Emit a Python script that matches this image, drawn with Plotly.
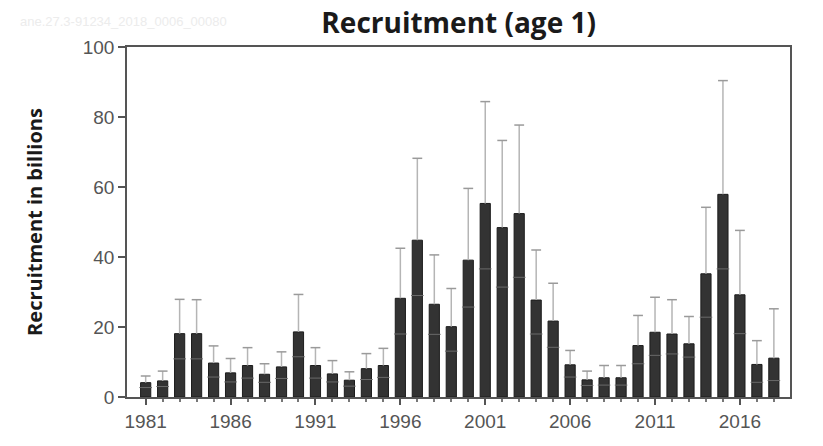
import plotly.graph_objects as go

years = list(range(1981, 2019))
recruitment = [4.1, 4.6, 18.1, 18.1, 9.7, 6.9, 9.0, 6.5, 8.6, 18.6,
               9.0, 6.6, 4.8, 8.1, 9.0, 28.2, 44.8, 26.5, 20.1, 39.1,
               55.3, 48.4, 52.4, 27.7, 21.7, 9.2, 4.9, 5.5, 5.5, 14.7,
               18.5, 18.0, 15.2, 35.2, 57.9, 29.2, 9.3, 11.1]
upper_ci = [6.0, 7.4, 27.9, 27.8, 14.6, 11.0, 14.1, 9.5, 12.9, 29.3,
            14.1, 10.4, 7.2, 12.4, 13.9, 42.5, 68.2, 40.6, 31.0, 59.6,
            84.4, 73.3, 77.7, 42.0, 32.5, 13.3, 7.4, 9.0, 9.0, 23.3,
            28.5, 27.8, 23.0, 54.2, 90.4, 47.6, 16.1, 25.2]
lower_ci = [2.7, 3.0, 10.9, 10.9, 5.7, 4.3, 5.4, 4.2, 5.3, 11.5,
            5.4, 4.3, 3.1, 5.0, 5.6, 18.0, 29.0, 17.9, 13.1, 25.7,
            36.6, 31.4, 34.2, 18.0, 14.2, 5.7, 3.3, 3.4, 3.4, 9.5,
            11.9, 12.3, 11.4, 22.8, 36.6, 18.1, 4.2, 4.7]

x_tick_vals = [1981, 1986, 1991, 1996, 2001, 2006, 2011, 2016]
y_tick_vals = [0, 20, 40, 60, 80, 100]

err_len = [u - v for u, v in zip(upper_ci, recruitment)]
zeros = [0] * len(years)

fig = go.Figure()
fig.add_trace(go.Bar(
    x=years, y=recruitment, width=0.6,
    marker=dict(color="#333333", line=dict(color="#1c1c1c", width=1)),
    showlegend=False, hoverinfo="x+y",
))
# whiskers (upper CI)
fig.add_trace(go.Scatter(
    x=years, y=upper_ci, mode="markers",
    marker=dict(symbol="line-ew-open", size=7, color="#9a9a9a",
                line=dict(color="#9a9a9a", width=1.5)),
    error_y=dict(type="data", symmetric=False, array=zeros, arrayminus=err_len,
                 color="#b5b5b5", thickness=1.5, width=0),
    showlegend=False, hoverinfo="skip",
))
# lower CI marks inside bars
fig.add_trace(go.Scatter(
    x=years, y=lower_ci, mode="markers",
    marker=dict(symbol="line-ew-open", size=9, color="#6a6a6a",
                line=dict(color="#6a6a6a", width=1)),
    showlegend=False, hoverinfo="skip",
))

fig.update_layout(
    width=815, height=438,
    margin=dict(l=119, r=33, t=39, b=49),
    paper_bgcolor="white", plot_bgcolor="white",
    title=dict(text="<b>Recruitment (age 1)</b>", x=0.553, xanchor="center",
               y=0.966, yanchor="middle",
               font=dict(family="Open Sans", size=28, color="#1a1a1a")),
    bargap=0.4,
    annotations=[dict(text="ane.27.3-91234_2018_0006_00080",
                      xref="paper", yref="paper", x=-0.164, y=1.074,
                      xanchor="left", yanchor="middle", showarrow=False,
                      font=dict(size=13, color="#ececec", family="Liberation Sans"))],
)

fig.update_xaxes(
    range=[1979.9, 2018.95], tickvals=x_tick_vals, ticks="outside", ticklen=6,
    tickcolor="#555", tickwidth=1.5,
    showline=True, linecolor="#555", linewidth=1.5, mirror=True,
    showgrid=False, zeroline=False,
    tickfont=dict(family="Liberation Sans", size=19, color="#555"),
    minor=dict(tickvals=years, ticks="outside", ticklen=3, tickcolor="#777"),
)
fig.update_yaxes(
    range=[0, 100], tickvals=y_tick_vals, ticks="outside", ticklen=7,
    tickcolor="#555", tickwidth=1.5,
    showline=True, linecolor="#555", linewidth=1.5, mirror=True,
    showgrid=False, zeroline=False,
    tickfont=dict(family="Liberation Sans", size=19, color="#555"),
    title=dict(text="<b>Recruitment in billions</b>", standoff=35,
               font=dict(family="Open Sans", size=20, color="#1a1a1a")),
)

fig.write_html("out.html")
